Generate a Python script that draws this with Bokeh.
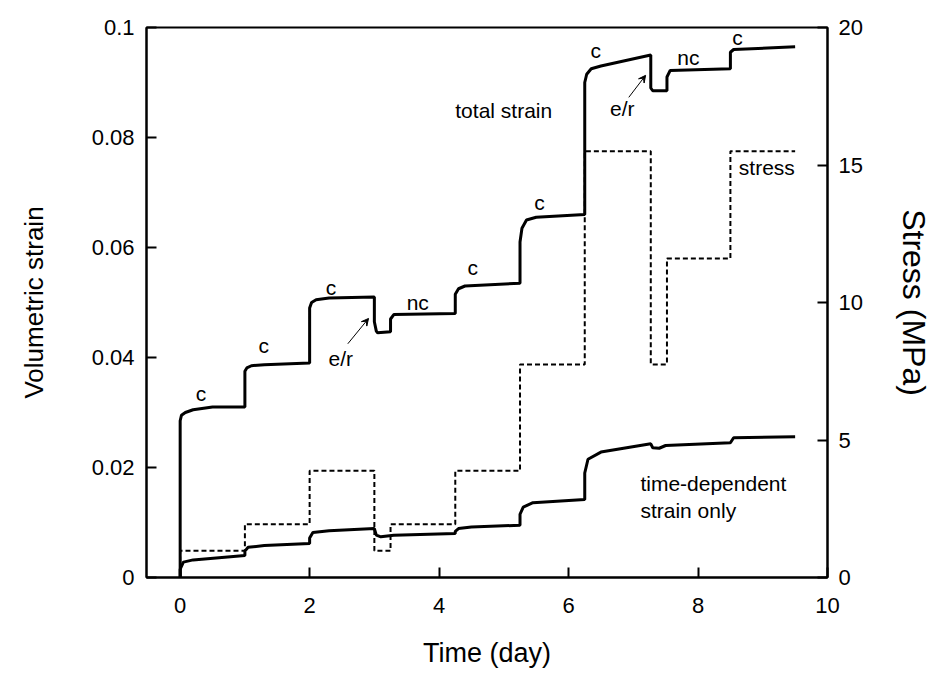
from bokeh.plotting import figure
from bokeh.models import (Range1d, LinearAxis, FixedTicker, CustomJSTickFormatter,
                          Arrow, VeeHead, ColumnDataSource)
from bokeh.core.properties import value
from bokeh.embed import file_html
from bokeh.resources import INLINE

# ---- data ----
total_t = [0, 0, 0.02, 0.08, 0.2, 0.5, 1.0, 1.0, 1.03, 1.1, 1.3, 2.0, 2.0, 2.03, 2.1, 2.3,
           3.0, 3.0, 3.03, 3.05, 3.25, 3.25, 3.3, 4.25, 4.25, 4.3, 4.4, 5.25, 5.25, 5.28,
           5.35, 5.5, 6.25, 6.25, 6.28, 6.35, 6.5, 7.27, 7.27, 7.3, 7.52, 7.52, 7.57, 8.5,
           8.5, 8.55, 9.5]
total_e = [0, 0.0285, 0.0295, 0.030, 0.0305, 0.031, 0.031, 0.0375, 0.0381, 0.0385, 0.0387,
           0.039, 0.049, 0.050, 0.0505, 0.0508, 0.051, 0.0465, 0.0448, 0.0445, 0.0447,
           0.0470, 0.0478, 0.048, 0.0515, 0.0525, 0.053, 0.0535, 0.061, 0.0635, 0.065,
           0.0655, 0.066, 0.090, 0.0915, 0.0925, 0.093, 0.095, 0.089, 0.0885, 0.0885,
           0.091, 0.0922, 0.0925, 0.0955, 0.096, 0.0965]

td_t = [0, 0, 0.05, 0.2, 1.0, 1.0, 1.05, 1.3, 2.0, 2.0, 2.05, 2.3, 3.0, 3.03, 3.1, 3.3,
        4.25, 4.25, 4.3, 4.5, 5.25, 5.25, 5.3, 5.45, 6.25, 6.25, 6.3, 6.5, 7.27, 7.3, 7.4,
        7.5, 8.5, 8.55, 9.5]
td_e = [0, 0.0015, 0.0028, 0.0032, 0.004, 0.0048, 0.0055, 0.0058, 0.0062, 0.0072, 0.0082,
        0.0085, 0.0089, 0.0077, 0.0074, 0.0077, 0.008, 0.0084, 0.0089, 0.0092, 0.0095,
        0.0115, 0.0128, 0.0136, 0.0142, 0.019, 0.0215, 0.0228, 0.0243, 0.0236, 0.0235,
        0.024, 0.0245, 0.0254, 0.0256]

stress_t = [0, 1, 2, 3.0, 3.25, 4.25, 5.25, 6.25, 7.27, 7.52, 8.5, 9.5]
stress_v = [0.97, 1.94, 3.88, 0.97, 1.94, 3.88, 7.75, 15.5, 7.75, 11.6, 15.5]

x_ticks = [0, 2, 4, 6, 8, 10]
strain_ticks = [0, 0.02, 0.04, 0.06, 0.08, 0.1]
stress_ticks = [0, 5, 10, 15, 20]

c_labels = ["c", "c", "c", "nc", "c", "c", "c", "nc", "c"]
c_x = [0.32, 1.29, 2.33, 3.67, 4.52, 5.55, 6.42, 7.85, 8.61]
c_y = [0.0335, 0.0422, 0.0527, 0.0500, 0.0564, 0.0682, 0.0958, 0.0945, 0.0982]

er_x = [2.48, 6.83]
er_y = [0.0398, 0.0853]
er_arrow_start = [(2.59, 0.0425), (6.93, 0.0873)]
er_arrow_end = [(2.91, 0.0471), (7.19, 0.0913)]

# ---- stress step path ----
sx, sy = [stress_t[0]], [0]
for i, v in enumerate(stress_v):
    sx += [stress_t[i], stress_t[i + 1]]
    sy += [v, v]

FONT = "Liberation Sans"
ANN = "21px"

p = figure(width=934, height=678, output_backend="svg", toolbar_location=None,
           x_range=Range1d(-0.52, 10), y_range=Range1d(0, 0.1),
           min_border_left=146, min_border_right=107, min_border_top=27,
           min_border_bottom=101)
p.extra_y_ranges = {"stress": Range1d(0, 20)}
p.xgrid.visible = False
p.ygrid.visible = False
p.outline_line_color = "black"
p.outline_line_width = 2
p.background_fill_color = "white"
p.border_fill_color = "white"

p.line(sx, sy, y_range_name="stress", line_color="black", line_width=2, line_dash="5 3")
p.line(total_t, total_e, line_color="black", line_width=3)
p.line(td_t, td_e, line_color="black", line_width=3)

def style_axis(ax, ticks, label_size):
    ax.ticker = FixedTicker(ticks=ticks, minor_ticks=[])
    ax.major_tick_in = 10
    ax.major_tick_out = 0
    ax.minor_tick_in = 0
    ax.minor_tick_out = 0
    ax.axis_line_width = 2
    ax.major_tick_line_width = 2
    ax.major_label_text_font = FONT
    ax.major_label_text_font_size = "22px"
    ax.major_label_text_color = "black"
    ax.axis_label_text_font = FONT
    ax.axis_label_text_font_size = label_size
    ax.axis_label_text_font_style = "normal"
    ax.axis_label_text_color = "black"

xa = p.xaxis[0]
style_axis(xa, x_ticks, "27px")
xa.axis_label = "Time (day)"
xa.major_label_standoff = 20
xa.axis_label_standoff = 22

ya = p.yaxis[0]
style_axis(ya, strain_ticks, "26px")
ya.formatter = CustomJSTickFormatter(code="return String(Math.round(tick*100)/100);")
ya.axis_label = "Volumetric strain"
ya.major_label_standoff = 12
ya.axis_label_standoff = 40

ra = LinearAxis(y_range_name="stress", axis_label="Stress (MPa)")
style_axis(ra, stress_ticks, "32px")
ra.major_label_standoff = 11
ra.axis_label_standoff = 30
p.add_layout(ra, "right")

src = ColumnDataSource(dict(x=c_x, y=c_y, t=c_labels))
p.text("x", "y", text="t", source=src, text_font=value(FONT), text_font_size=ANN,
       text_align="center", text_baseline="middle", text_color="black")
p.text(er_x, er_y, text=["e/r", "e/r"], text_font=value(FONT), text_font_size=ANN,
       text_align="center", text_baseline="middle", text_color="black")
for (x0, y0), (x1, y1) in zip(er_arrow_start, er_arrow_end):
    p.add_layout(Arrow(x_start=x0, y_start=y0, x_end=x1, y_end=y1, line_width=1,
                       line_color="black",
                       end=VeeHead(size=7, line_color="black", fill_color="black",
                                   line_width=1)))

p.text([4.25], [0.0849], text=["total strain"], text_font=value(FONT),
       text_font_size=ANN, text_align="left", text_baseline="middle")
p.text([8.63], [0.0745], text=["stress"], text_font=value(FONT),
       text_font_size=ANN, text_align="left", text_baseline="middle")
p.text([7.11, 7.11], [0.0171, 0.0122], text=["time-dependent", "strain only"],
       text_font=value(FONT), text_font_size=ANN, text_align="left",
       text_baseline="middle")

open("out.html", "w").write(file_html(p, INLINE))
